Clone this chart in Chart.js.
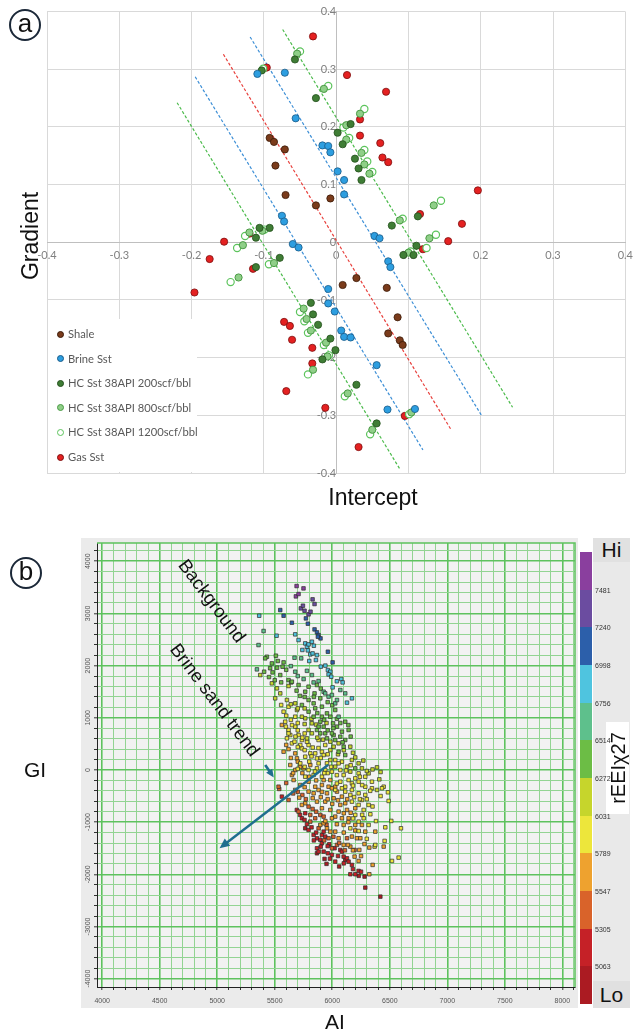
<!DOCTYPE html>
<html>
<head>
<meta charset="utf-8">
<script src="https://cdn.jsdelivr.net/npm/chart.js@4.4.0/dist/chart.umd.min.js"></script>
<style>
  body { margin: 0; background: #fff; }
  #page { position: relative; width: 640px; height: 1034px; overflow: hidden; font-family: 'Liberation Sans', Arial, sans-serif; }
  canvas { position: absolute; left: 0; }
  .txt { position: absolute; white-space: nowrap; color: #111; }
  .circ { position: absolute; width: 28px; height: 28px; border: 2px solid #1b2838; border-radius: 50%;
          text-align: center; line-height: 25px; font-size: 26px; color: #111; }
  #legendA { position: absolute; left: 48px; top: 319px; width: 149px; height: 153px; background: #fff;
             padding-top: 3px; box-sizing: border-box; font-family: Lato, sans-serif; font-size: 11.2px; color: #595959; }
  .lg { height: 24.6px; line-height: 24.6px; white-space: nowrap; }
  .dot { display: inline-block; width: 5px; height: 5px; border: 1px solid; border-radius: 50%;
         margin: 0 4px 0 9px; vertical-align: middle; position: relative; top: -1px; }
  #frameB { position: absolute; left: 81px; top: 538px; width: 497px; height: 470px; background: #ebebeb; }
  #sideB { position: absolute; left: 593px; top: 538px; width: 37px; height: 470px; background: #e9e9e9; }
  #cbar { position: absolute; left: 580px; top: 552px; width: 12px; height: 452px; }
  .cb-lab { position: absolute; left: 595px; font-size: 7px; color: #333; transform: translateY(-50%); }
</style>
</head>
<body>
<div id="page">
  <canvas id="chartA" width="640" height="510" style="top:0"></canvas>
  <div class="circ" style="left:9px;top:9px">a</div>
  <div class="txt" style="left:30px;top:236px;font-size:23px;transform:translate(-50%,-50%) rotate(-90deg)">Gradient</div>
  <div class="txt" style="left:373px;top:497px;font-size:23px;transform:translate(-50%,-50%)">Intercept</div>
  <div id="legendA"></div>

  <div id="frameB"></div>
  <div id="sideB"></div>
  <canvas id="chartB" width="640" height="504" style="top:530px"></canvas>
  <div id="cbar"></div>
  <div class="txt" style="left:593px;top:538px;width:37px;height:24px;background:#e1e1e1;font-size:21px;text-align:center;line-height:24px">Hi</div>
  <div class="txt" style="left:593px;top:981px;width:37px;height:27px;background:#e0e0e0;font-size:21px;text-align:center;line-height:27px">Lo</div>
  <div class="txt" style="left:606px;top:722px;width:23px;height:92px;background:#fff"></div>
  <div class="txt" style="left:618px;top:768px;font-size:20px;transform:translate(-50%,-50%) rotate(-90deg)">rEEIχ27</div>
  <div class="circ" style="left:10px;top:557px">b</div>
  <div class="txt" style="left:35px;top:770px;font-size:21px;transform:translate(-50%,-50%)">GI</div>
  <div class="txt" style="left:335px;top:1022px;font-size:21px;transform:translate(-50%,-50%)">AI</div>
  <div class="txt" style="left:212px;top:601px;font-size:18.5px;transform:translate(-50%,-50%) rotate(53deg)">Background</div>
  <div class="txt" style="left:215px;top:700px;font-size:18.5px;transform:translate(-50%,-50%) rotate(53deg)">Brine sand trend</div>
</div>

<script>
// ---------- panel (a): intercept / gradient crossplot ----------
const shale = [[-0.092,0.181],[-0.086,0.174],[-0.071,0.161],[-0.084,0.133],[-0.070,0.082],[-0.028,0.064],[-0.008,0.076],
  [0.028,-0.062],[0.009,-0.074],[0.070,-0.079],[0.085,-0.130],[0.072,-0.158],[0.088,-0.170],[0.092,-0.178]];
const brineSst = [[-0.109,0.292],[-0.071,0.294],[-0.056,0.215],[-0.019,0.168],[-0.011,0.167],[-0.008,0.156],[0.002,0.123],
  [0.011,0.108],[0.011,0.083],[-0.075,0.046],[-0.072,0.036],[0.053,0.011],[0.060,0.007],[-0.060,-0.003],[-0.052,-0.009],
  [0.072,-0.033],[0.075,-0.043],[-0.011,-0.081],[-0.011,-0.106],[-0.002,-0.120],[0.007,-0.153],[0.011,-0.164],
  [0.020,-0.165],[0.056,-0.213],[0.071,-0.290],[0.109,-0.289]];
const hc200 = [[-0.057,0.317],[-0.103,0.298],[-0.028,0.250],[0.020,0.205],[0.002,0.190],[0.009,0.170],[0.026,0.145],
  [0.031,0.128],[0.035,0.108],[0.077,0.029],[0.113,0.045],[-0.106,0.025],[-0.092,0.025],[-0.111,0.008],[-0.078,-0.027],
  [0.093,-0.022],[0.107,-0.022],[0.111,-0.006],[-0.111,-0.043],[-0.035,-0.105],[-0.032,-0.125],[-0.025,-0.143],
  [-0.008,-0.167],[-0.001,-0.187],[-0.019,-0.203],[0.028,-0.247],[0.056,-0.314]];
const hc800 = [[-0.054,0.327],[-0.017,0.266],[0.033,0.223],[0.014,0.203],[0.014,0.178],[0.035,0.155],[0.039,0.135],
  [0.046,0.119],[0.088,0.038],[0.135,0.064],[0.129,0.007],[0.100,-0.018],[-0.120,0.017],[-0.129,-0.005],[-0.102,0.020],
  [-0.086,-0.036],[-0.135,-0.061],[-0.045,-0.115],[-0.041,-0.133],[-0.035,-0.153],[-0.014,-0.174],[-0.012,-0.198],
  [-0.032,-0.221],[0.016,-0.262],[0.050,-0.325],[0.104,-0.295]];
const hc1200 = [[-0.050,0.331],[-0.101,0.301],[-0.011,0.271],[0.039,0.231],[0.010,0.199],[0.018,0.181],[0.039,0.160],
  [0.043,0.140],[0.050,0.122],[0.092,0.041],[0.145,0.072],[0.138,0.013],[0.125,-0.010],[0.103,-0.016],[-0.126,0.011],
  [-0.137,-0.010],[-0.099,0.022],[-0.093,-0.038],[-0.146,-0.069],[-0.050,-0.121],[-0.044,-0.137],[-0.039,-0.157],
  [-0.017,-0.178],[-0.010,-0.196],[-0.039,-0.229],[0.012,-0.267],[0.047,-0.333],[0.101,-0.298]];
const gasSst = [[-0.032,0.357],[-0.096,0.303],[0.015,0.290],[0.069,0.261],[0.033,0.213],[0.033,0.185],[0.061,0.172],
  [0.064,0.147],[0.072,0.139],[0.196,0.090],[0.116,0.049],[0.174,0.032],[0.155,0.002],[-0.120,0.015],[-0.155,0.001],
  [-0.175,-0.029],[0.120,-0.012],[-0.115,-0.046],[-0.196,-0.087],[-0.072,-0.138],[-0.064,-0.145],[-0.061,-0.169],
  [-0.033,-0.183],[-0.033,-0.210],[-0.069,-0.258],[-0.015,-0.287],[0.095,-0.301],[0.031,-0.355]];

// dashed trend lines (end points)
const trendGreenL = [[-0.220,0.242],[0.089,-0.395]];
const trendBlueL  = [[-0.195,0.287],[0.120,-0.360]];
const trendRed    = [[-0.156,0.326],[0.159,-0.325]];
const trendBlueR  = [[-0.119,0.356],[0.201,-0.300]];
const trendGreenR = [[-0.074,0.369],[0.244,-0.286]];

const xy = arr => arr.map(p => ({x: p[0], y: p[1]}));

const seriesA = [
  {label: 'Shale', data: shale, fill: '#7a3b1b', edge: '#3b1a08', bw: 0.8},
  {label: 'Brine Sst', data: brineSst, fill: '#2d9ee0', edge: '#195b88', bw: 0.8},
  {label: 'HC Sst 38API 200scf/bbl', data: hc200, fill: '#3f7d35', edge: '#24501d', bw: 0.8},
  {label: 'HC Sst 38API 800scf/bbl', data: hc800, fill: '#8fcf88', edge: '#4a9a45', bw: 1},
  {label: 'HC Sst 38API 1200scf/bbl', data: hc1200, fill: '#ffffff', edge: '#5cc45c', bw: 1.2},
  {label: 'Gas Sst', data: gasSst, fill: '#e42121', edge: '#7d0e0e', bw: 0.8}
];
const trendsA = [
  {data: trendGreenL, color: '#4cbb4c'}, {data: trendBlueL, color: '#3d8fd6'}, {data: trendRed, color: '#e8423e'},
  {data: trendBlueR, color: '#3d8fd6'}, {data: trendGreenR, color: '#4cbb4c'}
];

const fmtA = v => Math.abs(v) < 1e-9 ? '0' : v.toFixed(1);
const tickFontA = {family: 'Lato', size: 11};

new Chart(document.getElementById('chartA'), {
  type: 'scatter',
  data: {
    datasets: seriesA.map(s => ({
      label: s.label, data: xy(s.data), backgroundColor: s.fill, borderColor: s.edge,
      borderWidth: s.bw, pointRadius: 3.6
    })).concat(trendsA.map(t => ({
      data: xy(t.data), showLine: true, pointRadius: 0, borderColor: t.color,
      borderWidth: 1.2, borderDash: [3, 2]
    })))
  },
  options: {
    responsive: false, animation: false,
    layout: {padding: {left: 47, right: 7, top: 9, bottom: 37}},
    plugins: {legend: {display: false}, tooltip: {enabled: false}},
    scales: {
      x: {
        type: 'linear', position: {y: 0}, min: -0.4, max: 0.4,
        ticks: {stepSize: 0.1, color: '#808080', font: tickFontA, padding: 7, callback: fmtA},
        grid: {color: '#d9d9d9', drawTicks: false},
        border: {color: '#bfbfbf'}
      },
      y: {
        type: 'linear', position: {x: 0}, min: -0.4, max: 0.4,
        ticks: {stepSize: 0.1, color: '#808080', font: tickFontA, padding: 5, callback: fmtA},
        grid: {color: '#d9d9d9', drawTicks: false},
        border: {color: '#bfbfbf'}
      }
    }
  }
});

const legendBox = document.getElementById('legendA');
seriesA.forEach(s => {
  const row = document.createElement('div');
  row.className = 'lg';
  row.innerHTML = '<span class="dot" style="background:' + s.fill + ';border-color:' + s.edge + '"></span>' + s.label;
  legendBox.appendChild(row);
});

// ---------- panel (b): AI vs GI coloured by rEEI ----------
const reeiColors = ['#8a3f9e','#6b4ca0','#2c5faa','#4fc4df','#5ec08c','#6cbd45','#c6d52c','#ede63b','#eea22f','#d9632a','#c52127','#ab1b22'];
const reeiTicks = ['7481','7240','6998','6756','6514','6272','6031','5789','5547','5305','5063'];

// [AI, GI] per colour class, top of colour bar first
const bin0 = [[5690,3525],[5750,3480],[5684,3327],[5707,3372]];
const bin1 = [[5829,3270],[5846,3180],[5727,3097],[5745,3148],[5759,3052],[5794,2982],[5811,3033]];
const bin2 = [[5548,3065],[5577,2956],[5649,2822],[5788,2803],[5771,2905],[5846,2694],[5867,2637],[5881,2586],
  [5898,2522],[5875,2554],[5962,2266],[6003,2062]];
const bin3 = [[5365,2956],[5516,2573],[5678,2599],[5707,2490],[5765,2426],[5780,2362],[5794,2407],[5823,2458],
  [5840,2381],[5788,2292],[5809,2215],[5829,2234],[5867,2202],[5858,2107],[5800,2088],[5962,1915],[5983,1883],
  [5968,1832],[5991,1787],[6078,1742],[6090,1678],[6003,1583],[6171,1373],[6128,1290],[5740,2300],[5900,1980],
  [5940,2000],[6040,1700]];
const bin4 = [[5403,2663],[5359,2394],[5672,2151],[5730,2139],[5678,1883],[5823,1819],[5751,1742],[5838,1678],
  [5881,1704],[5345,1928],[6026,1277],[5968,1405],[5925,1500],[6055,1021],[6113,1468],[6070,1532],[5939,1468],
  [5997,1437],[6041,1341],[5640,1990],[5780,1900],[5700,1800]];
const bin5 = [[5432,2170],[5417,2139],[5510,2190],[5527,2088],[5475,2043],[5577,2062],[5568,1979],[5408,1883],
  [5481,1870],[5548,1819],[5620,1723],[5643,1678],[5556,1679],[5867,1628],[5794,1596],[5846,1468],[5765,1500],
  [5707,1628],[5649,1692],[5736,1245],[5794,1341],[5910,1213],[5954,1085],[6026,1149],[6113,925],[6007,893],
  [5896,925],[5838,1021],[5867,766],[5939,702],[6012,670],[6070,638],[6113,574],[6055,350],[6113,286],[6200,31],
  [5983,1021],[6041,830],[5925,830],[5896,702],[5954,606],[5997,702],[5794,1117],[5852,1181],[5896,1373],
  [5838,1277],[5910,1021],[5881,830],[6084,734],[6142,766],[6099,446],[6026,574],[5900,1560],[5960,1300],
  [6000,1240],[5870,1090],[5930,960],[6070,900],[6140,860],[6010,800],[5960,760],[6090,530],[6160,640],
  [6040,980],[5840,1400],[5760,1400],[5690,1520],[5720,1420],[5460,1950],[5520,1960],[5600,1920],[5500,1720],
  [5450,1780]];
const bin6 = [[5374,1819],[5620,1609],[5548,1468],[5519,1564],[5475,1660],[5678,1277],[5765,989],[5794,766],
  [5983,542],[5983,382],[6171,191],[6128,63],[6389,50],[6409,-180],[5823,894],[6055,510],[6157,446],[6229,127],
  [6389,-383],[5780,606],[5823,702],[6026,63],[5983,191],[6157,-33],[6258,31],[6316,-65],[5736,1021],[5693,1149],
  [5606,1341],[5504,1373],[5760,880],[6012,446],[5700,1180],[5640,1260],[5760,1180],[5820,980],[5870,620],
  [5920,580],[6050,300],[6100,380],[6180,330],[6200,240],[6270,180],[6300,-20],[6350,10],[6420,-40],[5950,900],
  [5860,870]];
const bin7 = [[5556,1245],[5577,1117],[5620,1213],[5678,1021],[5591,925],[5620,766],[5606,606],[5649,510],
  [5707,670],[5881,574],[5794,478],[5736,414],[5765,254],[5852,318],[5910,350],[6084,159],[6026,191],[5954,127],
  [5881,127],[5765,-129],[5838,-97],[5910,-129],[5997,-33],[6070,-1],[6229,-65],[6287,-129],[6345,-225],[6142,-193],
  [6200,-161],[6113,-321],[6287,-321],[6447,-321],[5678,830],[5736,574],[5939,478],[6113,-415],[6171,-383],
  [6229,-447],[6287,-479],[6345,-351],[6432,-351],[6484,-428],[6490,-594],[6171,-607],[6200,-862],[6273,-926],
  [6331,-849],[6273,-766],[6316,-1054],[6461,-1099],[6513,-977],[6597,-1118],[6368,-1469],[6374,-1437],
  [6455,-1360],[6519,-1744],[6577,-1680],[6026,-383],[6229,-670],[5597,830],[5635,670],[5672,542],[5722,478],
  [5925,286],[5867,222],[5809,318],[5722,127],[5794,-1],[5867,31],[5939,-1],[6055,127],[6099,-97],[6171,-257],
  [6229,-225],[6070,-225],[6084,-351],[6157,-479],[6258,-575],[6316,-670],[6157,-1118],[6229,-990],
  [5600,1040],[5640,960],[5700,900],[5650,860],[5700,760],[5760,700],[5680,640],[5740,620],[5620,700],[5780,540],
  [5700,440],[5760,380],[5830,430],[5880,420],[5820,260],[5900,230],[5960,300],[5990,60],[5850,-30],[5760,60],
  [5700,20],[5800,160],[5960,-60],[6040,-100],[6120,-10],[6160,90],[6240,-130],[6260,-290],[6330,-400],
  [6180,-300],[6040,-260],[5930,-60],[6190,-520],[6240,-560],[6300,-560],[6350,-700],[6420,-500],[6260,-860],
  [6180,-930],[6380,-980],[6230,-1170],[6300,-1320]];
const bin8 = [[5562,862],[5577,350],[5678,318],[5809,95],[5751,31],[5678,-1],[5635,95],[5649,-97],[5983,-193],
  [5910,-289],[5852,-321],[6026,-321],[5664,-193],[5713,-530],[5765,-638],[5896,-1054],[5925,-1022],[5954,-1118],
  [5983,-1182],[6026,-1182],[6055,-1309],[6171,-1277],[6215,-1309],[6244,-1309],[6157,-1469],[6235,-1533],
  [6136,-1437],[6194,-1661],[6229,-1744],[6351,-1820],[6322,-1488],[6447,-1469],[6322,-1999],[6374,-1182],
  [6258,-1054],[6200,-1054],[6142,-926],[6084,-926],[6026,-894],[5983,-766],[5910,-734],[5939,-607],[6012,-543],
  [6070,-670],[6128,-766],[6200,-734],[6084,-511],[6041,-415],[5954,-447],[5881,-383],[5838,-447],[5794,-415],
  [5867,-607],[5678,-383],[5693,222],[5968,-321],[5925,-193],[5794,-225],[5722,-289],[5997,-351],[6113,-638],
  [6055,-798],[5997,-926],[6099,-1054],[6287,-1182],[6099,-1437],[5736,-670],[5600,480],[5620,400],[5640,230],
  [5700,160],[5720,60],[5660,-60],[5740,-60],[5800,-130],[5860,-200],[5760,-330],[5830,-540],[5900,-520],
  [5960,-560],[6000,-650],[6050,-580],[6100,-830],[6160,-820],[6140,-1000],[6040,-1040],[6200,-1160],[6280,-1420],
  [6250,-1650],[6180,-1540],[6100,-1200],[5940,-980],[5910,-420],[6130,-560]];
const bin9 = [[5539,-364],[5794,-702],[5829,-747],[5852,-926],[5997,-1501],[6128,-1309],[6194,-1533],[5620,-575],
  [5707,-798],[5896,-862],[5809,-990],[5533,-321],[5925,-894],[5881,-1118],[5968,-1309],[6041,-1437],[5809,-862],
  [5600,-250],[5660,-450],[5740,-480],[5770,-560],[5860,-800],[5950,-1050],[6010,-1280],[6060,-1400],[5930,-1350],
  [6110,-1540],[5700,-420]];
const bin10 = [[5562,-511],[5692,-766],[5736,-926],[5759,-958],[5794,-1150],[5838,-1246],[5867,-1310],[5896,-1341],
  [5910,-1246],[5939,-1277],[5867,-1501],[5881,-1565],[5925,-1565],[5962,-1597],[5974,-1424],[5997,-1629],
  [6026,-1757],[6070,-1533],[6084,-1565],[6099,-1661],[6128,-1693],[6142,-1757],[6171,-1821],[6157,-1999],
  [6200,-1999],[6229,-1935],[5925,-1182],[5910,-1405],[5765,-830],[5720,-860],[5780,-1040],[5820,-1100],
  [5860,-1200],[5900,-1470],[5960,-1460],[6020,-1500],[6050,-1650],[6100,-1790],[6180,-1900],[6250,-1950],
  [5980,-1700],[5840,-1350]];
const bin11 = [[5933,-1705],[6113,-1725],[6281,-2044],[6287,-2255],[6418,-2428],[5867,-1597],[5765,-1118],
  [5950,-1800],[6060,-1850],[6230,-2030]];
const binsB = [bin0, bin1, bin2, bin3, bin4, bin5, bin6, bin7, bin8, bin9, bin10, bin11];

// annotation arrows [from, to] in AI / GI
const brineArrow = [[5965,100],[5020,-1500]];
const pointerArrow = [[5417,96],[5492,-145]];

const xGridB = [];
for (let v = 4000; v <= 8100; v += 100) xGridB.push(v);
const yGridB = [];
for (let v = -4000; v <= 4200; v += 200) yGridB.push(v);
const yLabelsB = [4000, 3000, 2000, 1000, 0, -1000, -2000, -3000, -4000];

const majorGreen = '#5ec25e', minorGreen = '#93d493';

const plotBgB = {
  id: 'plotBgB',
  beforeDraw(chart) {
    const {ctx, chartArea: a} = chart;
    ctx.save();
    ctx.fillStyle = '#f2f2f2';
    ctx.fillRect(a.left, a.top, a.right - a.left, a.bottom - a.top);
    ctx.restore();
  },
  afterDraw(chart) {
    const {ctx, chartArea: a, scales} = chart;
    ctx.save();
    ctx.strokeStyle = majorGreen;
    ctx.lineWidth = 1.5;
    ctx.beginPath();
    ctx.moveTo(a.left, a.top); ctx.lineTo(a.right, a.top); ctx.lineTo(a.right, a.bottom);
    ctx.stroke();
    ctx.fillStyle = '#555';
    ctx.font = '7px "Liberation Sans", Arial';
    ctx.textAlign = 'center';
    ctx.textBaseline = 'middle';
    yLabelsB.forEach(v => {
      const py = scales.y.getPixelForValue(v);
      ctx.save();
      ctx.translate(a.left - 9, py);
      ctx.rotate(-Math.PI / 2);
      ctx.fillText(String(v), 0, 0);
      ctx.restore();
    });
    ctx.restore();
  }
};

function drawArrow(ctx, x0, y0, x1, y1, head, width) {
  const ang = Math.atan2(y1 - y0, x1 - x0);
  ctx.lineWidth = width;
  ctx.beginPath();
  ctx.moveTo(x0, y0);
  ctx.lineTo(x1 - Math.cos(ang) * head * 0.6, y1 - Math.sin(ang) * head * 0.6);
  ctx.stroke();
  ctx.beginPath();
  ctx.moveTo(x1, y1);
  ctx.lineTo(x1 - head * Math.cos(ang - 0.42), y1 - head * Math.sin(ang - 0.42));
  ctx.lineTo(x1 - head * Math.cos(ang + 0.42), y1 - head * Math.sin(ang + 0.42));
  ctx.closePath();
  ctx.fill();
}

const arrowsB = {
  id: 'arrowsB',
  afterDatasetsDraw(chart) {
    const {ctx, scales: {x, y}} = chart;
    ctx.save();
    ctx.strokeStyle = '#1f6e8e';
    ctx.fillStyle = '#1f6e8e';
    const a = brineArrow, b = pointerArrow;
    drawArrow(ctx, x.getPixelForValue(a[0][0]), y.getPixelForValue(a[0][1]),
      x.getPixelForValue(a[1][0]), y.getPixelForValue(a[1][1]), 11, 2.4);
    drawArrow(ctx, x.getPixelForValue(b[0][0]), y.getPixelForValue(b[0][1]),
      x.getPixelForValue(b[1][0]), y.getPixelForValue(b[1][1]), 9, 2.6);
    ctx.restore();
  }
};

new Chart(document.getElementById('chartB'), {
  type: 'scatter',
  data: {
    datasets: binsB.map((bin, i) => ({
      data: xy(bin), pointStyle: 'rect', pointRadius: 2.5,
      backgroundColor: reeiColors[i], borderColor: '#2b2b2b', borderWidth: 0.7
    }))
  },
  options: {
    responsive: false, animation: false,
    layout: {padding: {left: 79, right: 65, top: 13, bottom: 19}},
    plugins: {legend: {display: false}, tooltip: {enabled: false}},
    scales: {
      x: {
        type: 'linear', min: 3955, max: 8110,
        afterBuildTicks: s => { s.ticks = xGridB.map(v => ({value: v})); },
        afterFit: s => { s.height = 28; },
        ticks: {autoSkip: false, maxRotation: 0, color: '#555', padding: 7,
                font: {family: 'Liberation Sans', size: 7},
                callback: v => (v % 500 === 0 ? String(v) : '')},
        grid: {color: c => (c.tick && c.tick.value % 500 === 0 ? majorGreen : minorGreen),
               lineWidth: c => (c.tick && c.tick.value % 500 === 0 ? 1.6 : 1),
               tickColor: '#333', tickLength: 3, tickWidth: 1},
        border: {color: '#222', width: 1}
      },
      y: {
        type: 'linear', min: -4160, max: 4350,
        afterBuildTicks: s => { s.ticks = yGridB.map(v => ({value: v})); },
        afterFit: s => { s.width = 18; },
        ticks: {display: false},
        grid: {color: c => (c.tick && c.tick.value % 1000 === 0 ? majorGreen : minorGreen),
               lineWidth: c => (c.tick && c.tick.value % 1000 === 0 ? 1.6 : 1),
               tickColor: '#333', tickLength: 3, tickWidth: 1},
        border: {color: '#222', width: 1}
      }
    }
  },
  plugins: [plotBgB, arrowsB]
});

// colour bar
const cbar = document.getElementById('cbar');
const segH = 452 / reeiColors.length;
reeiColors.forEach(c => {
  const d = document.createElement('div');
  d.style.cssText = 'height:' + segH + 'px;background:' + c;
  cbar.appendChild(d);
});
reeiTicks.forEach((t, i) => {
  const l = document.createElement('div');
  l.className = 'cb-lab';
  l.style.top = (552 + segH * (i + 1)) + 'px';
  l.textContent = t;
  document.getElementById('page').appendChild(l);
});
</script>
</body>
</html>
